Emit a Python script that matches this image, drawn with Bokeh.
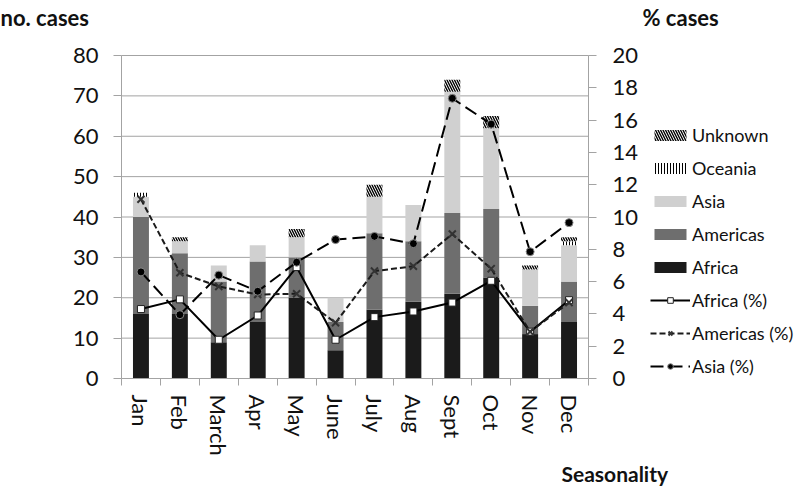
from bokeh.plotting import figure
from bokeh.models import (ColumnDataSource, Range1d, LinearAxis, FixedTicker,
                          Label, Legend, LegendItem)
from bokeh.embed import file_html
from bokeh.resources import INLINE

months = ["Jan", "Feb", "March", "Apr", "May", "June", "July", "Aug", "Sept", "Oct", "Nov", "Dec"]
africa = [16, 16, 9, 14, 20, 7, 17, 19, 21, 25, 11, 14]
americas = [24, 15, 15, 15, 10, 7, 19, 15, 20, 17, 7, 10]
asia = [5, 3, 4, 4, 5, 6, 9, 9, 30, 20, 9, 9]
oceania = [1, 0, 0, 0, 0, 0, 0, 0, 0, 0, 0, 1]
unknown = [0, 1, 0, 0, 2, 0, 3, 0, 3, 3, 1, 1]

africa_pct = [4.3, 4.9, 2.4, 3.9, 6.9, 2.4, 3.8, 4.15, 4.7, 6.05, 2.9, 4.85]
americas_pct = [11.1, 6.55, 5.7, 5.2, 5.25, 3.45, 6.65, 6.95, 8.95, 6.8, 2.9, 4.7]
asia_pct = [6.6, 3.95, 6.4, 5.4, 7.2, 8.6, 8.8, 8.35, 17.35, 15.75, 7.85, 9.65]

left_ticks = [0, 10, 20, 30, 40, 50, 60, 70, 80]
right_ticks = [0, 2, 4, 6, 8, 10, 12, 14, 16, 18, 20]

FONT = "Lato"
GRID = "#a3a3a3"
TXT = "#111111"

# ---- layout (pixels) ----
W, H = 800, 488
X0_PX, X12_PX = 121.0, 588.0      # plot area left / right edge
Y80_PX, Y0_PX = 55.0, 378.0       # y=80 / y=0 pixel rows
n = len(months)
ymax = left_ticks[-1]
pmax = right_ticks[-1]
sx = (X12_PX - X0_PX) / n
sy = (Y0_PX - Y80_PX) / ymax
x_start = -X0_PX / sx
x_end = n + (W - X12_PX) / sx
y_start = -(H - Y0_PX) / sy
y_end = ymax + Y80_PX / sy
k = pmax / ymax

xs = [i + 0.5 for i in range(n)]
source = ColumnDataSource(dict(x=xs, Africa=africa, Americas=americas, Asia=asia,
                               Oceania=oceania, Unknown=unknown,
                               africa_pct=africa_pct, americas_pct=americas_pct, asia_pct=asia_pct))

p = figure(width=W, height=H, x_range=Range1d(x_start, x_end), y_range=Range1d(y_start, y_end),
           output_backend="svg", toolbar_location=None, min_border=0)
p.extra_y_ranges = {"pct": Range1d(y_start * k, y_end * k)}
p.outline_line_color = None
p.xgrid.visible = False
p.ygrid.visible = False

# gridlines over the plot area only
gl = left_ticks[1:]
p.segment(x0=[0] * len(gl), x1=[n] * len(gl), y0=gl, y1=gl, line_color=GRID, line_width=1)

# left axis
ya = p.yaxis[0]
ya.fixed_location = 0
ya.bounds = (0, ymax)
ya.ticker = FixedTicker(ticks=left_ticks)
ya.axis_line_color = GRID
ya.major_tick_line_color = GRID
ya.major_tick_out = 8
ya.major_tick_in = 0
ya.minor_tick_line_color = None
ya.major_label_text_font = FONT
ya.major_label_text_font_size = "22px"
ya.major_label_text_color = TXT
ya.major_label_standoff = 15

# right axis
ra = LinearAxis(y_range_name="pct", ticker=FixedTicker(ticks=right_ticks))
ra.fixed_location = n
ra.bounds = (0, pmax)
ra.axis_line_color = GRID
ra.major_tick_line_color = GRID
ra.major_tick_out = 8
ra.major_tick_in = 0
ra.minor_tick_line_color = None
ra.major_label_text_font = FONT
ra.major_label_text_font_size = "22px"
ra.major_label_text_color = TXT
ra.major_label_standoff = 16
p.add_layout(ra, "right")

# x axis: labels at centres, ticks at boundaries
xa = p.xaxis[0]
xa.fixed_location = 0
xa.bounds = (0, n)
xa.ticker = FixedTicker(ticks=xs, minor_ticks=list(range(n + 1)))
xa.major_label_overrides = {x: m for x, m in zip(xs, months)}
xa.axis_line_color = GRID
xa.major_tick_line_color = None
xa.major_tick_out = 0
xa.major_tick_in = 0
xa.minor_tick_line_color = GRID
xa.minor_tick_out = 7
xa.minor_tick_in = 0
xa.major_label_orientation = "vertical"
xa.major_label_text_font = FONT
xa.major_label_text_font_size = "22px"
xa.major_label_text_color = TXT
xa.major_label_standoff = 9

stackers = ["Africa", "Americas", "Asia", "Oceania", "Unknown"]
bars = p.vbar_stack(stackers, x="x", width=0.41, source=source,
                    fill_color=["#1b1b1b", "#6e6e6e", "#d0d0d0", "white", "white"],
                    line_color=None,
                    hatch_pattern=[" ", " ", " ", "vertical_line", "left_diagonal_line"],
                    hatch_color="black", hatch_scale=[5, 5, 5, 3, 5],
                    hatch_weight=[1, 1, 1, 1, 1.4])

# percent lines
l_af = p.line("x", "africa_pct", source=source, y_range_name="pct", line_color="black", line_width=2)
m_af = p.scatter("x", "africa_pct", source=source, y_range_name="pct", marker="square", size=7,
                 fill_color="white", line_color="#222222", line_width=1)
l_am = p.line("x", "americas_pct", source=source, y_range_name="pct", line_color="#1a1a1a",
              line_width=2, line_dash="6 3")
m_am = p.scatter("x", "americas_pct", source=source, y_range_name="pct", marker="x", size=10,
                 line_color="#333333", line_width=2)
l_as = p.line("x", "asia_pct", source=source, y_range_name="pct", line_color="black",
              line_width=2, line_dash="13 6")
m_as = p.scatter("x", "asia_pct", source=source, y_range_name="pct", marker="circle", size=8,
                 fill_color="black", line_color="#888888", line_width=1)

items = [
    LegendItem(label="Unknown", renderers=[bars[4]]),
    LegendItem(label="Oceania", renderers=[bars[3]]),
    LegendItem(label="Asia", renderers=[bars[2]]),
    LegendItem(label="Americas", renderers=[bars[1]]),
    LegendItem(label="Africa", renderers=[bars[0]]),
    LegendItem(label="Africa (%)", renderers=[l_af, m_af]),
    LegendItem(label="Americas (%)", renderers=[l_am, m_am]),
    LegendItem(label="Asia (%)", renderers=[l_as, m_as]),
]
legend = Legend(items=items, location=(650, H - 377), padding=0, margin=0, spacing=11,
                glyph_width=40, glyph_height=14, label_height=22, label_standoff=2,
                label_text_font=FONT, label_text_font_size="18px", label_text_color=TXT,
                border_line_color=None, background_fill_alpha=0)
p.add_layout(legend, "center")

for txt, x, y, fs in [("no. cases", 0, H - 17, "22px"), ("% cases", 642, H - 17, "22px"),
                      ("Seasonality", 561, H - 473, "21px")]:
    p.add_layout(Label(x=x, y=y, x_units="screen", y_units="screen", text=txt,
                       text_font=FONT, text_font_style="bold", text_font_size=fs,
                       text_color=TXT, text_baseline="alphabetic"))

open("out.html", "w").write(file_html(p, INLINE))
